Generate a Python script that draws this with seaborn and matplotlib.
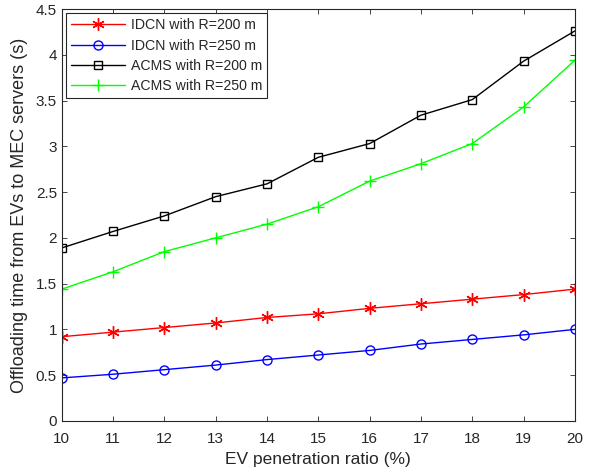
import numpy as np
import pandas as pd
import seaborn as sns
import matplotlib.pyplot as plt

ratio = [10, 11, 12, 13, 14, 15, 16, 17, 18, 19, 20]
idcn_200 = [0.92, 0.97, 1.02, 1.07, 1.13, 1.17, 1.23, 1.28, 1.33, 1.38, 1.44]
idcn_250 = [0.47, 0.51, 0.56, 0.61, 0.67, 0.72, 0.77, 0.84, 0.89, 0.94, 1.00]
acms_200 = [1.89, 2.07, 2.24, 2.45, 2.59, 2.88, 3.03, 3.34, 3.51, 3.93, 4.26]
acms_250 = [1.44, 1.63, 1.85, 2.00, 2.15, 2.34, 2.62, 2.81, 3.03, 3.43, 3.94]
labels = ["IDCN with R=200 m", "IDCN with R=250 m",
          "ACMS with R=200 m", "ACMS with R=250 m"]

sns.set_style("ticks")
plt.rcParams["font.family"] = ["Liberation Sans", "DejaVu Sans"]

df = pd.DataFrame({
    "ratio": ratio * 4,
    "time": idcn_200 + idcn_250 + acms_200 + acms_250,
    "series": np.repeat(labels, len(ratio)),
})

colors = ["#ff0000", "#0000ff", "#000000", "#00ff00"]
markers = [(6, 2, 0), "o", "s", "+"]
sizes = [9, 6.5, 5.5, 9]

fig = plt.figure(figsize=(5.89, 4.74), dpi=100)
ax = fig.add_axes([0.105, 0.112, 0.871, 0.869])

for lab, c, m, s in zip(labels, colors, markers, sizes):
    sns.lineplot(data=df[df["series"] == lab], x="ratio", y="time", ax=ax,
                 color=c, marker=m, markersize=s, markerfacecolor="none",
                 markeredgecolor=c, markeredgewidth=1.0, linewidth=1.0,
                 label=lab)

ax.set_xlim(10, 20)
ax.set_ylim(0, 4.5)
ax.set_xticks(ratio)
ax.set_yticks(np.arange(0, 4.51, 0.5))
ax.set_yticklabels(["0", "0.5", "1", "1.5", "2", "2.5", "3", "3.5", "4", "4.5"])
ax.tick_params(direction="in", top=True, right=True, labelsize=11,
               color="#262626", labelcolor="#262626", length=3.5, width=0.6)
ax.tick_params(axis="x", pad=8)
for sp in ax.spines.values():
    sp.set_color("#262626")
    sp.set_linewidth(0.8)
ax.set_xlabel("EV penetration ratio (%)", fontsize=12.5, color="#262626",
              labelpad=4)
ax.set_ylabel("Offloading time from EVs to MEC servers (s)", fontsize=13,
              color="#262626", labelpad=6)

leg = ax.legend(loc="upper left", fontsize=10.2, frameon=True, fancybox=False,
                edgecolor="#262626", framealpha=1, handlelength=3.8,
                borderaxespad=0.3, labelspacing=0.45, handletextpad=0.4,
                borderpad=0.35)
leg.get_frame().set_linewidth(0.8)

fig.savefig("out.png", dpi=100)
